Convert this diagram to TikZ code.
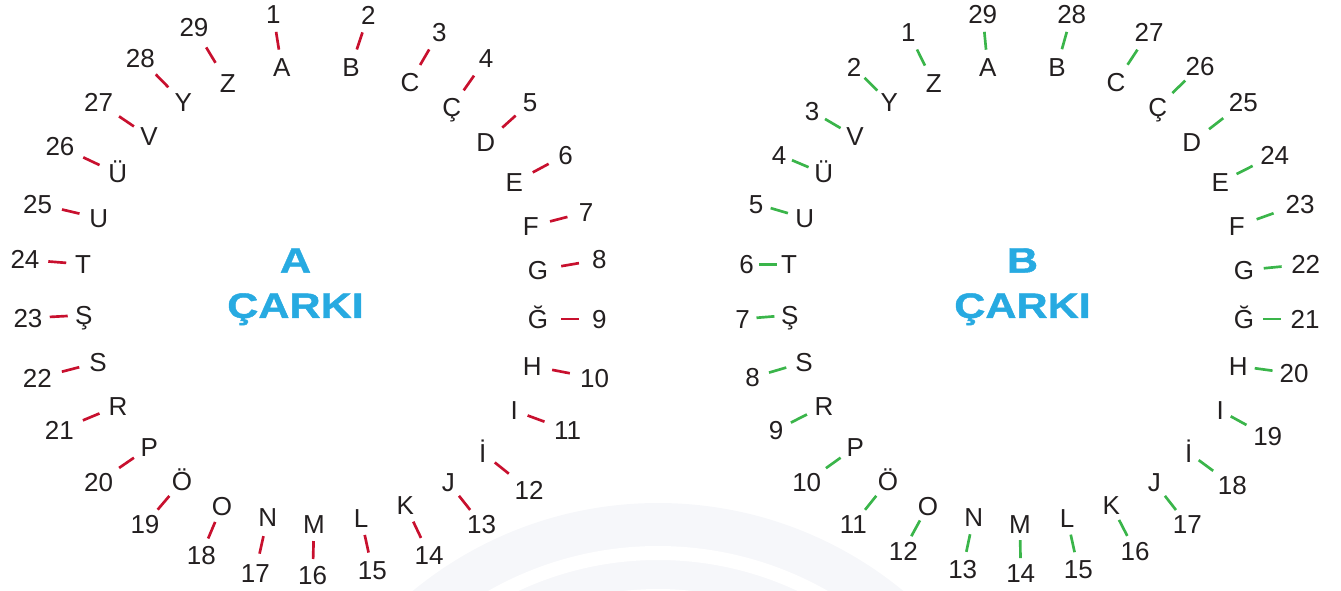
\documentclass[tikz,border=0pt]{standalone}
\usepackage{fontspec}
\setmainfont{Liberation Sans}
\newfontfamily\titlefont[FakeStretch=1.22,BoldFeatures={FakeBold=1.2}]{Liberation Sans}
\usetikzlibrary{calc}
\definecolor{spokered}{RGB}{200,16,46}
\definecolor{spokegreen}{RGB}{58,181,74}
\definecolor{titleblue}{RGB}{39,170,225}
\definecolor{inkblack}{RGB}{35,31,32}
\definecolor{watermark}{RGB}{246,247,250}

% letter positions of one wheel (the second wheel is the same, moved right)
\newcommand\wheelletters{A/281.7/67.2, B/351/66.8, C/410/82.3, Ç/451.7/107.5,
  D/485.7/142.6, E/514.3/182.3, F/530.7/226.4, G/538/270.2, Ğ/538/318.9,
  H/532.3/366, I/514.3/410.6, İ/482.7/452.8, J/448.3/482.3, K/405.3/504.9,
  L/361/517.7, M/314/524.5, N/267.7/517, O/222/505.7, Ö/182/481.1,
  P/149.3/447.2, R/118/405.7, S/98/362.3, Ş/83.7/315.1, T/83/264.2,
  U/98.7/218.1, Ü/117.7/173.6, V/149/136.6, Y/183.3/102.6, Z/227.7/83}

\begin{document}
\begin{tikzpicture}[
  x=0.75pt, y=-0.75pt,
  wheelletter/.style={
    font=\fontsize{19.5}{23}\selectfont,
    text=inkblack,
    inner sep=0pt,
    text height=14pt,
    text depth=0pt
  },
  wheelnumber/.style={wheelletter},
  spoke/.style={line width=2pt},
  wheeltitle/.style={
    font=\titlefont\bfseries\fontsize{26.5}{34}\selectfont,
    text=titleblue,
    align=center,
    inner sep=0pt,
    anchor=north
  }
]
  \useasboundingbox (0,0) rectangle (1341,590);

  % faint rings in the background
  \begin{scope}
    \clip (0,0) rectangle (1341,590);
    \fill[watermark] (658,889) circle[radius=386];
    \draw[white, line width=10.5pt] (658,889) circle[radius=336];
    \fill[white] (658,889) circle[radius=300];
  \end{scope}

  % A wheel: letter i gets number i
  \foreach \ltr/\x/\y [count=\i] in \wheelletters
    \node[wheelletter] (LA\i) at (\x,\y) {\ltr};
  \foreach \x/\y [count=\i] in {273.3/14.3, 368.3/15.1, 439.3/32.1, 486/58.5,
      530/102.6, 565.7/154.7, 586/212.1, 599.3/259.6, 599.3/318.9, 594.7/378.1,
      567.7/430.2, 529/489.8, 481.7/524.5, 429/554.7, 372.3/569.8, 312.7/575.5,
      255.3/572.8, 201.3/554.7, 145/524.5, 98.7/481.9, 59.3/430.2, 37.3/378.1,
      28/318.1, 25/259.6, 37.7/203.8, 60/146.4, 98.7/102.6, 140.3/58.5, 194/27.2}
    \node[wheelnumber] (NA\i) at (\x,\y) {\i};
  \foreach \i in {1,...,29}{
    \path (LA\i) -- coordinate (mA\i) (NA\i);
    \draw[spoke, draw=spokered] ($(mA\i)!6.75pt!(LA\i)$) -- ($(mA\i)!6.75pt!(NA\i)$);
  }
  \node[wheeltitle] (titleA) at (295.5,248) {A\\ÇARKI};

  % B wheel: letter i gets number 30-i
  \foreach \ltr/\x/\y [count=\i] in \wheelletters
    \node[wheelletter] (LB\i) at (\x+706,\y) {\ltr};
  \foreach \x/\y [count=\i] in {982.7/14.3, 1071.7/14.3, 1149/32.1, 1200/66,
      1243.3/102.6, 1274.7/154.7, 1300/203.8, 1305.7/264.2, 1305/318.9,
      1294/373.6, 1267.7/436.6, 1232.3/484.9, 1187.3/524.5, 1135/550.9,
      1078.3/569.1, 1020.7/573.6, 962.7/569.1, 903.3/550.9, 853.3/524.5,
      806.7/481.9, 776/430.2, 752.7/377.4, 742.7/318.9, 746.7/264.2, 756/203.8,
      779/154.7, 812/111.3, 854/67.2, 908.3/32.1}
    \node[wheelnumber] (NB\i) at (\x,\y) {\the\numexpr30-\i\relax};
  \foreach \i in {1,...,29}{
    \path (LB\i) -- coordinate (mB\i) (NB\i);
    \draw[spoke, draw=spokegreen] ($(mB\i)!6.75pt!(LB\i)$) -- ($(mB\i)!6.75pt!(NB\i)$);
  }
  \node[wheeltitle] (titleB) at (1022.5,248) {B\\ÇARKI};
\end{tikzpicture}
\end{document}
